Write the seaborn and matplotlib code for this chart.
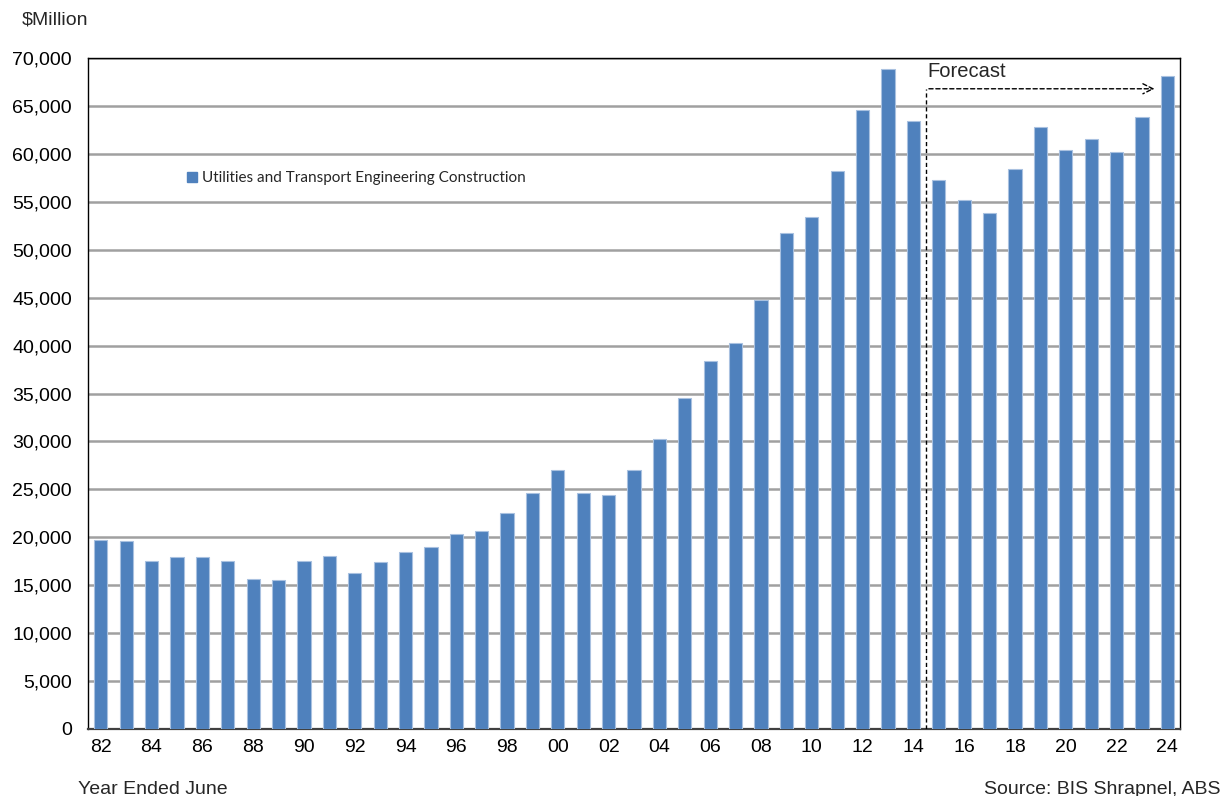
import matplotlib
matplotlib.use("Agg")
import matplotlib.pyplot as plt
import seaborn as sns
import pandas as pd
from matplotlib.ticker import FuncFormatter
from matplotlib.lines import Line2D

years = [f"{y % 100:02d}" for y in range(1982, 2025)]
values = [19750, 19650, 17550, 17950, 17950, 17550, 15700, 15575, 17550, 18100,
          16250, 17400, 18500, 19000, 20300, 20700, 22550, 24650, 27000, 24650,
          24400, 27000, 30250, 34550, 38350, 40300, 44800, 51750, 53450, 58200,
          64550, 68900, 63400, 57300, 55150, 53850, 58450, 62800, 60450, 61600,
          60200, 63900, 68100]
series_name = "Utilities and Transport Engineering Construction"
forecast_label = "Forecast"
forecast_start = "15"
y_ticks = list(range(0, 70001, 5000))

df = pd.DataFrame({"year": years, "value": values})

sns.set_theme(style="white")
plt.rcParams["font.family"] = ["Liberation Sans", "DejaVu Sans"]

fig = plt.figure(figsize=(12.28, 7.96), dpi=100)
ax = fig.add_axes([0.0717, 0.0842, 0.8893, 0.8428])

BAR = "#4F81BD"
sns.barplot(data=df, x="year", y="value", color=BAR, saturation=1, width=0.52,
            edgecolor="#a9c1e0", linewidth=0.8, ax=ax, zorder=3)

FS = 14
ax.set_ylim(0, 70000)
ax.set_xlim(-0.5, len(years) - 0.5)
ax.set_yticks(y_ticks)
ax.yaxis.set_major_formatter(FuncFormatter(lambda v, p: f"{int(v):,}"))
ax.set_xticks(range(0, len(years), 2))
ax.set_xticklabels(years[::2])
ax.tick_params(axis="both", length=0, labelsize=FS, colors="black")
ax.tick_params(axis="x", pad=7)
ax.tick_params(axis="y", pad=11.5)
ax.set_xlabel("")
ax.set_ylabel("")
ax.yaxis.grid(True, color="#a0a0a0", linewidth=1.8, zorder=0)
ax.set_axisbelow(True)
for s in ax.spines.values():
    s.set_visible(True)
    s.set_color("black")
    s.set_linewidth(1.0)
ax.spines["bottom"].set_linewidth(1.6)
ax.spines["bottom"].set_color("#404040")

# forecast marker
fx = years.index(forecast_start) - 0.5
fy = 66800
ax.plot([fx, fx], [0, fy], color="black", linestyle=(0, (3, 2)), linewidth=1.0, zorder=4)
ax.annotate("", xy=(41.6, fy), xytext=(fx, fy),
            arrowprops=dict(arrowstyle="->", linestyle=(0, (3, 2)), color="black",
                            linewidth=1.0, mutation_scale=18), zorder=4)
ax.text(fx + 0.05, fy + 800, forecast_label, fontsize=14.5, ha="left", va="bottom")

handle = Line2D([], [], marker="s", linestyle="none", markersize=7,
                markerfacecolor=BAR, markeredgecolor=BAR)
leg = ax.legend([handle], [series_name], loc="center left",
                bbox_to_anchor=(0.076, 0.821), frameon=False, handletextpad=0.1,
                handlelength=1.0, prop={"family": "Lato", "size": 11})

fig.text(22 / 1228, 1 - 20 / 796, "$Million", fontsize=FS, ha="left", va="center")
fig.text(78 / 1228, 1 - 789 / 796, "Year Ended June", fontsize=FS, ha="left", va="center")
fig.text(1220 / 1228, 1 - 789 / 796, "Source: BIS Shrapnel, ABS", fontsize=FS,
         ha="right", va="center")

fig.savefig("out.png", dpi=100)
